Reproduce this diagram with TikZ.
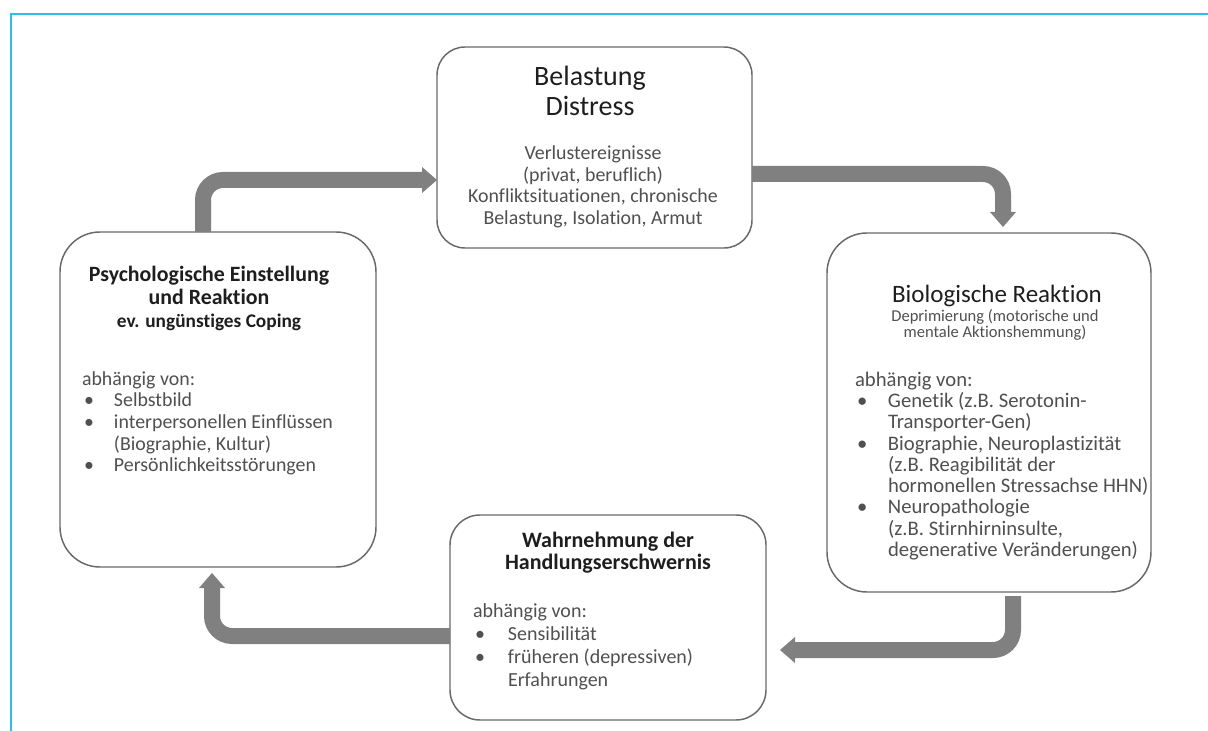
\documentclass[tikz,border=0pt]{standalone}
\usepackage{fontspec}
\setmainfont{Carlito}[Ligatures={NoCommon}]
\usetikzlibrary{arrows.meta}
\definecolor{frame}{RGB}{45,190,235}
\definecolor{boxline}{RGB}{105,105,105}
\definecolor{arrowgray}{RGB}{128,128,128}
\definecolor{titletext}{RGB}{30,30,30}
\definecolor{bodytext}{RGB}{80,80,80}
\newcommand{\CL}[1]{\vtop{\lineskiplimit=-100pt\halign{\hfil##\hfil\cr#1\crcr}}}
\newcommand{\LL}[1]{\vtop{\lineskiplimit=-100pt\halign{##\hfil\cr#1\crcr}}}
\newcommand{\bu}[1]{\makebox[#1][l]{\hspace{1.5pt}\textbullet}}
\tikzset{
  x=0.75pt, y=-0.75pt,
  box/.style={draw=boxline, line width=1.1pt, fill=white, rectangle, inner sep=0pt, outer sep=0pt},
  txt/.style={inner sep=0pt, outer sep=0pt},
  flow/.style={draw=arrowgray, line width=12pt, rounded corners=15pt,
    -{Triangle[length=11.25pt, width=19.5pt, line width=0pt]}},
}
\begin{document}
\begin{tikzpicture}
\useasboundingbox (0,0) rectangle (1208,731);
\fill[white] (0,0) rectangle (1208,731);
% frame lines
\draw[frame, line width=1.5pt] (11,731) -- (11,14) -- (1208,14);

% boxes
\node[box, minimum width=236.25pt, minimum height=150.75pt, rounded corners=21pt] (tbox) at (594.5,147.5) {};
\node[box, minimum width=237pt, minimum height=251.25pt, rounded corners=30pt] (lbox) at (218,399.5) {};
\node[box, minimum width=243pt, minimum height=269.25pt, rounded corners=30pt] (rbox) at (989,412.5) {};
\node[box, minimum width=237pt, minimum height=153.75pt, rounded corners=22.5pt] (bbox) at (608,617.5) {};

% arrows
\coordinate (k1) at (203,180);
\coordinate (k2) at (1003,174);
\coordinate (k3) at (1013,650);
\coordinate (k4) at (212,636);
\draw[flow] (lbox.north -| k1) |- (tbox.west |- k1);
\draw[flow, shorten >=4.5pt] (tbox.east |- k2) -| (rbox.north -| k2);
\draw[flow, shorten <=3pt, shorten >=10.5pt] (rbox.south -| k3) |- (bbox.east |- k3);
\draw[flow, shorten >=4.5pt] (bbox.west |- k4) -| (lbox.south -| k4);

% top box text
\node[txt, anchor=base, text=titletext, font=\fontsize{21}{22.5}\selectfont] (ttitle) at (590,86)
  {\CL{Belastung\cr Distress}};
\node[txt, anchor=base, text=bodytext, font=\fontsize{14.9}{16.1}\selectfont] (tbody) at (593,160)
  {\CL{Verlustereignisse\cr (privat, beruflich)\cr Konfliktsituationen, chronische\cr Belastung, Isolation, Armut}};

% left box text
\node[txt, anchor=base, text=titletext, font=\bfseries\fontsize{16.4}{17.4}\selectfont] (ltitle) at (209,281.7)
  {\CL{Psychologische Einstellung\cr und Reaktion}};
\node[txt, anchor=base, text=titletext, font=\bfseries\fontsize{14.5}{16}\selectfont] (lsub) at (209,327.3)
  {ev. ungünstiges Coping};
\node[txt, anchor=base west, text=bodytext, font=\fontsize{14.9}{16.25}\selectfont] (lbody) at (82,385)
  {\LL{abhängig von:\cr
  \bu{24pt}Selbstbild\cr
  \bu{24pt}interpersonellen Einflüssen\cr
  \hskip24pt(Biographie, Kultur)\cr
  \bu{24pt}Persönlichkeitsstörungen}};

% right box text
\node[txt, anchor=base, text=titletext, font=\fontsize{18.75}{20}\selectfont] (rtitle) at (997,303)
  {Biologische Reaktion};
\node[txt, anchor=base, text=bodytext, font=\fontsize{12.4}{12.4}\selectfont] (rsub) at (995,321)
  {\CL{Deprimierung (motorische und\cr mentale Aktionshemmung)}};
\node[txt, anchor=base west, text=bodytext, font=\fontsize{15.5}{16}\selectfont] (rbody) at (855,386)
  {\LL{abhängig von:\cr
  \bu{24.75pt}Genetik (z.B. Serotonin-\cr
  \hskip24.75pt Transporter-Gen)\cr
  \bu{24.75pt}Biographie, Neuroplastizität\cr
  \hskip24.75pt(z.B. Reagibilität der\cr
  \hskip24.75pt hormonellen Stressachse HHN)\cr
  \bu{24.75pt}Neuropathologie\cr
  \hskip24.75pt(z.B. Stirnhirninsulte,\cr
  \hskip24.75pt degenerative Veränderungen)}};

% bottom box text
\node[txt, anchor=base, text=titletext, font=\bfseries\fontsize{16.5}{17}\selectfont] (btitle) at (608,547.3)
  {\CL{Wahrnehmung der\cr Handlungserschwernis}};
\node[txt, anchor=base west, text=bodytext, font=\fontsize{15}{17.25}\selectfont] (bbody) at (473,617)
  {\LL{abhängig von:\cr
  \bu{26.25pt}Sensibilität\cr
  \bu{26.25pt}früheren (depressiven)\cr
  \hskip26.25pt Erfahrungen}};
\end{tikzpicture}
\end{document}
